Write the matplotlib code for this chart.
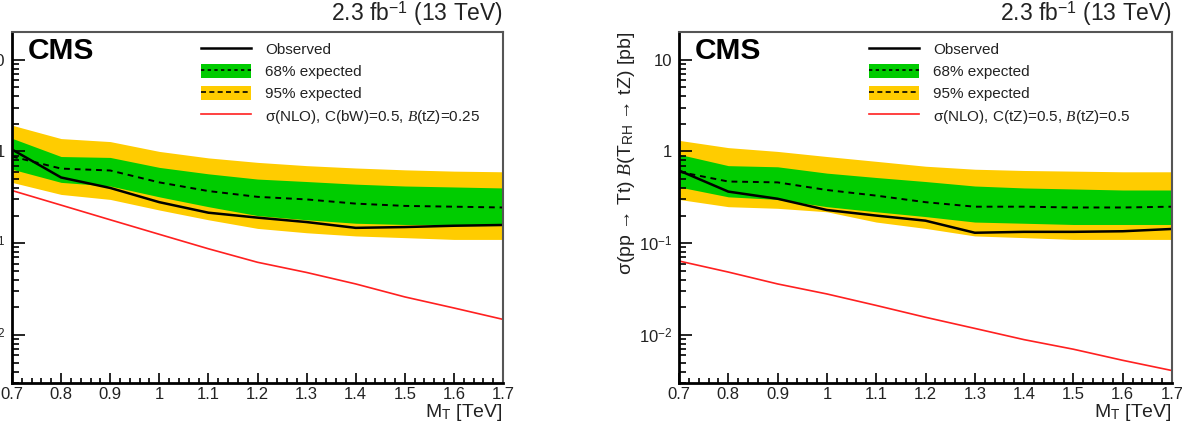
import numpy as np
import matplotlib
matplotlib.use("Agg")
import matplotlib.pyplot as plt
from matplotlib.lines import Line2D
from matplotlib.patches import Patch
from matplotlib.ticker import FixedLocator, LogLocator, NullFormatter, FuncFormatter

plt.rcParams['font.family'] = ['Liberation Sans', 'DejaVu Sans']
plt.rcParams['mathtext.fontset'] = 'custom'
plt.rcParams['mathtext.rm'] = 'Liberation Sans'
plt.rcParams['mathtext.it'] = 'Liberation Serif:italic'
plt.rcParams['mathtext.bf'] = 'Liberation Sans:bold'

# mass points [TeV]
mass = [0.7, 0.8, 0.9, 1.0, 1.1, 1.2, 1.3, 1.4, 1.5, 1.6, 1.7]

# left panel: C(bW)=0.5, B(tZ)=0.25
obs_l = [1.05, 0.52, 0.40, 0.28, 0.215, 0.19, 0.17, 0.147, 0.15, 0.155, 0.158]
exp_l = [0.88, 0.65, 0.62, 0.46, 0.37, 0.32, 0.30, 0.27, 0.255, 0.25, 0.245]
g_lo_l = [0.64, 0.46, 0.42, 0.32, 0.25, 0.20, 0.18, 0.165, 0.16, 0.16, 0.16]
g_hi_l = [1.39, 0.88, 0.86, 0.67, 0.57, 0.50, 0.47, 0.44, 0.42, 0.41, 0.40]
y_lo_l = [0.46, 0.34, 0.30, 0.23, 0.18, 0.145, 0.13, 0.12, 0.115, 0.11, 0.11]
y_hi_l = [1.93, 1.38, 1.28, 1.00, 0.85, 0.76, 0.70, 0.66, 0.63, 0.61, 0.60]
theo_l = [0.375, 0.26, 0.18, 0.125, 0.087, 0.062, 0.048, 0.036, 0.026, 0.0197, 0.0148]

# right panel: C(tZ)=0.5, B(tZ)=0.5
obs_r = [0.62, 0.365, 0.305, 0.23, 0.20, 0.176, 0.13, 0.133, 0.133, 0.135, 0.143]
exp_r = [0.60, 0.47, 0.46, 0.38, 0.33, 0.28, 0.25, 0.25, 0.245, 0.245, 0.25]
g_lo_r = [0.41, 0.32, 0.30, 0.25, 0.22, 0.195, 0.17, 0.165, 0.16, 0.16, 0.16]
g_hi_r = [0.93, 0.70, 0.68, 0.58, 0.52, 0.47, 0.42, 0.40, 0.39, 0.38, 0.38]
y_lo_r = [0.30, 0.25, 0.24, 0.22, 0.17, 0.145, 0.12, 0.115, 0.11, 0.11, 0.11]
y_hi_r = [1.32, 1.10, 1.00, 0.88, 0.78, 0.69, 0.64, 0.62, 0.61, 0.60, 0.60]
theo_r = [0.064, 0.0485, 0.036, 0.028, 0.021, 0.0156, 0.0118, 0.0089, 0.0070, 0.0053, 0.0041]

theo_labels = [r'σ(NLO), C(bW)=0.5, $\mathit{B}$(tZ)=0.25',
               r'σ(NLO), C(tZ)=0.5, $\mathit{B}$(tZ)=0.5']
xticks = [0.7, 0.8, 0.9, 1.0, 1.1, 1.2, 1.3, 1.4, 1.5, 1.6, 1.7]

GREEN = '#00cc00'
YELLOW = '#ffcc00'
RED = '#ff2020'


def ylab(v, pos):
    e = int(round(np.log10(v)))
    if e == 0:
        return '1'
    if e == 1:
        return '10'
    return r'$10^{%d}$' % e


def xlab(v, pos):
    return '1' if abs(v - 1.0) < 1e-6 else '%.1f' % v


def draw_panel(ax, obs, exp, glo, ghi, ylo, yhi, theo, theo_label):
    ax.fill_between(mass, ylo, yhi, color=YELLOW, lw=0)
    ax.fill_between(mass, glo, ghi, color=GREEN, lw=0)
    ax.plot(mass, exp, color='black', lw=1.4, ls=(0, (3, 2.5)))
    ax.plot(mass, obs, color='black', lw=1.8)
    ax.plot(mass, theo, color=RED, lw=1.2)

    ax.set_yscale('log')
    ax.set_xlim(0.7, 1.7)
    ax.set_ylim(0.003, 20)
    ax.xaxis.set_major_locator(FixedLocator(xticks))
    ax.xaxis.set_minor_locator(FixedLocator(np.arange(0.7, 1.7001, 0.02)))
    ax.xaxis.set_major_formatter(FuncFormatter(xlab))
    ax.yaxis.set_major_locator(LogLocator(base=10, numticks=10))
    ax.yaxis.set_minor_locator(LogLocator(base=10, subs=np.arange(2, 10), numticks=10))
    ax.yaxis.set_major_formatter(FuncFormatter(ylab))
    ax.yaxis.set_minor_formatter(NullFormatter())

    ax.tick_params(axis='both', which='both', direction='in', top=False, right=False,
                   labelsize=12, width=1.2, color='black', labelcolor='#222222')
    ax.tick_params(axis='y', which='major', length=9.5, pad=5)
    ax.tick_params(axis='y', which='minor', length=5)
    ax.tick_params(axis='x', which='major', length=7.5, pad=3)
    ax.tick_params(axis='x', which='minor', length=3.8)

    for s in ['left', 'bottom']:
        ax.spines[s].set_linewidth(2.0)
        ax.spines[s].set_color('black')
    for s in ['top', 'right']:
        ax.spines[s].set_linewidth(1.5)
        ax.spines[s].set_color('#555555')

    ax.text(0.032, 0.985, 'CMS', transform=ax.transAxes, ha='left', va='top',
            fontsize=21.5, fontweight='bold')
    ax.text(1.0, 1.012, r'2.3 fb$^{\mathregular{-1}}$ (13 TeV)', transform=ax.transAxes,
            ha='right', va='bottom', fontsize=16.5, color='#222222')
    ax.set_xlabel(r'M$_\mathregular{T}$ [TeV]', fontsize=14, loc='right', labelpad=0,
                  color='#222222')

    handles = [Line2D([], [], color='black', lw=1.8),
               (Patch(color=GREEN, lw=0), Line2D([], [], color='black', lw=1.2, ls=(0, (2, 2)))),
               (Patch(color=YELLOW, lw=0), Line2D([], [], color='black', lw=1.2, ls=(0, (3, 2)))),
               Line2D([], [], color=RED, lw=1.2)]
    labels = ['Observed', '68% expected', '95% expected', theo_label]
    leg = ax.legend(handles, labels, loc='upper left', bbox_to_anchor=(0.385, 0.972),
                    frameon=False, fontsize=11, handlelength=3.3, handleheight=1.1,
                    handletextpad=0.9, labelspacing=0.42, borderpad=0, borderaxespad=0)
    for t in leg.get_texts():
        t.set_color('#222222')


fig = plt.figure(figsize=(11.82, 4.36), dpi=100)
ax1 = fig.add_axes([12 / 1182, 53 / 436, 491 / 1182, 351 / 436])
ax2 = fig.add_axes([679 / 1182, 53 / 436, 493 / 1182, 351 / 436])

draw_panel(ax1, obs_l, exp_l, g_lo_l, g_hi_l, y_lo_l, y_hi_l, theo_l, theo_labels[0])
draw_panel(ax2, obs_r, exp_r, g_lo_r, g_hi_r, y_lo_r, y_hi_r, theo_r, theo_labels[1])

ax2.set_ylabel(r'σ(pp → Tt) $\mathit{B}$(T$_\mathregular{RH}$ → tZ) [pb]',
               fontsize=14, loc='top', labelpad=1, color='#222222')

fig.savefig('out.png', dpi=100)
